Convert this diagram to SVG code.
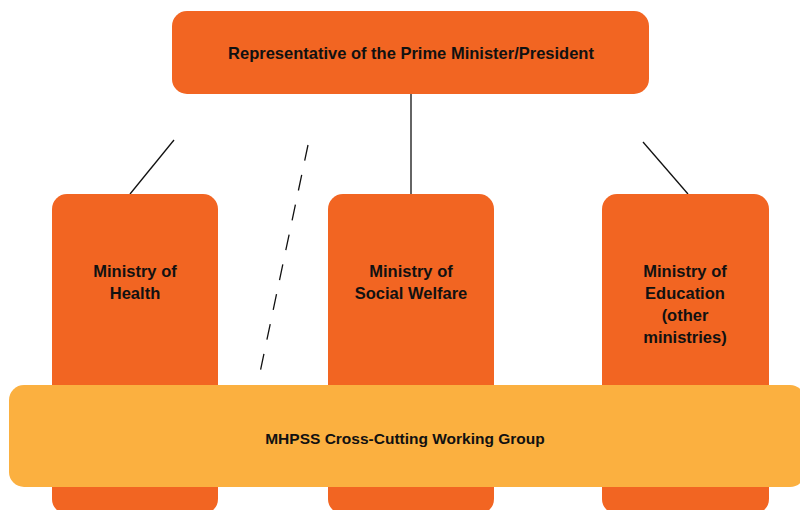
<svg xmlns="http://www.w3.org/2000/svg" width="800" height="510" viewBox="0 0 800 510">
<style>
.box{fill:#F26522}
.band{fill:#FBB040}
.t{font-family:"Liberation Sans",Arial,sans-serif;font-weight:bold;font-size:16.5px;fill:#111;text-anchor:middle}
.s{font-size:15.5px}
.ln{stroke:#111;stroke-width:1.3;fill:none}
</style>
<rect width="800" height="510" fill="#fff"/>
<g id="connectors">
<line class="ln" x1="174" y1="140" x2="130" y2="194"/>
<line class="ln" x1="411" y1="94" x2="411" y2="194"/>
<line class="ln" x1="643" y1="142" x2="688" y2="194"/>
<line class="ln" x1="308" y1="145" x2="258" y2="382" stroke-dasharray="16 14.5"/>
</g>
<g id="top">
<rect class="box" x="172" y="11" width="477" height="83" rx="15"/>
<text class="t" x="411" y="59">Representative of the Prime Minister/President</text>
</g>
<g id="health">
<rect class="box" x="52" y="194" width="166" height="320" rx="15"/>
<text class="t" x="135" y="277">Ministry of</text>
<text class="t" x="135" y="299">Health</text>
</g>
<g id="social">
<rect class="box" x="328" y="194" width="166" height="320" rx="15"/>
<text class="t" x="411" y="277">Ministry of</text>
<text class="t" x="411" y="299">Social Welfare</text>
</g>
<g id="education">
<rect class="box" x="602" y="194" width="167" height="320" rx="15"/>
<text class="t" x="685" y="277">Ministry of</text>
<text class="t" x="685" y="299">Education</text>
<text class="t" x="685" y="321">(other</text>
<text class="t" x="685" y="343">ministries)</text>
</g>
<g id="working-group">
<rect class="band" x="9" y="385" width="796" height="102" rx="15"/>
<text class="t s" x="405" y="444">MHPSS Cross-Cutting Working Group</text>
</g>
</svg>
